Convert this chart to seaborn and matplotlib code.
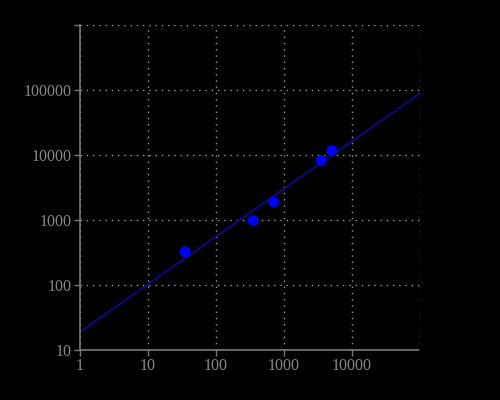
import matplotlib
matplotlib.use("Agg")
import matplotlib.pyplot as plt
import matplotlib.ticker as mticker
import seaborn as sns
import pandas as pd

# measured points
x_vals = [35, 350, 700, 3500, 5000]
y_vals = [325, 980, 1900, 8200, 11800]

# fitted line end points
fit_x = [1, 100000]
fit_y = [19, 89000]

x_ticks = [1, 10, 100, 1000, 10000]
y_ticks = [10, 100, 1000, 10000, 100000]

sns.set_style("dark")
plt.rcParams['font.family'] = ['Liberation Serif', 'DejaVu Serif']

df = pd.DataFrame({"x": x_vals, "y": y_vals})
line_df = pd.DataFrame({"x": fit_x, "y": fit_y})

fig = plt.figure(figsize=(5, 4), dpi=100, facecolor="black")
ax = fig.add_axes([0.16, 0.125, 0.68, 0.8125])
ax.set_facecolor("black")

sns.lineplot(data=line_df, x="x", y="y", ax=ax, color="#0a0a9a", linewidth=1.2, zorder=2)
sns.scatterplot(data=df, x="x", y="y", ax=ax, color="#0000ff", s=60, edgecolor="none", zorder=3)

ax.set_xscale("log")
ax.set_yscale("log")
ax.set_xlim(1, 100000)
ax.set_ylim(10, 1000000)

ax.xaxis.set_major_locator(mticker.FixedLocator(x_ticks))
ax.yaxis.set_major_locator(mticker.FixedLocator(y_ticks + [1000000]))
ax.set_xticklabels([str(t) for t in x_ticks])
ax.set_yticklabels([str(t) for t in y_ticks] + [""])
ax.xaxis.set_minor_locator(mticker.NullLocator())
ax.yaxis.set_minor_locator(mticker.NullLocator())

gray = "#7a7a7a"
ax.tick_params(which="major", direction="out", length=4, width=1, color=gray,
               labelcolor="#888888", labelsize=11.5, bottom=True, left=True, pad=2)

ax.grid(True, which="major", color="#9a9a9a", linestyle=(0, (1, 3.5)), linewidth=1)
# x gridline at right edge
ax.axvline(100000, color="#9a9a9a", linestyle=(0, (1, 3.5)), linewidth=1)

for side in ["top", "right"]:
    ax.spines[side].set_visible(False)
for side in ["left", "bottom"]:
    ax.spines[side].set_visible(True)
    ax.spines[side].set_color(gray)
    ax.spines[side].set_linewidth(1.2)
    ax.spines[side].set_linestyle((0, (3, 1)))

ax.set_xlabel("")
ax.set_ylabel("")

fig.savefig("out.png", dpi=100, facecolor="black")
